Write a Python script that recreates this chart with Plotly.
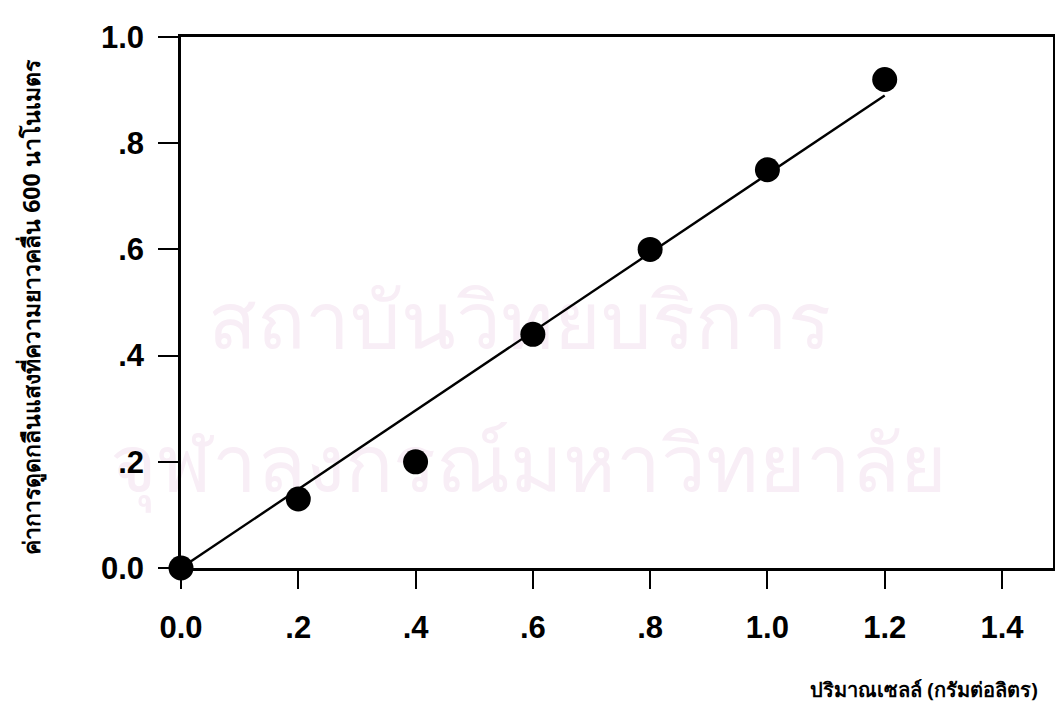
import plotly.graph_objects as go

# Data
cell_amount = [0.0, 0.2, 0.4, 0.6, 0.8, 1.0, 1.2]
absorbance = [0.0, 0.13, 0.20, 0.44, 0.60, 0.75, 0.92]
fit_x = [0.0, 1.2]
fit_y = [0.0, 0.89]
x_tickvals = [0.0, 0.2, 0.4, 0.6, 0.8, 1.0, 1.2, 1.4]
x_ticktext = ["0.0", ".2", ".4", ".6", ".8", "1.0", "1.2", "1.4"]
y_tickvals = [0.0, 0.2, 0.4, 0.6, 0.8, 1.0]
y_ticktext = ["0.0", ".2", ".4", ".6", ".8", "1.0"]

x_title = "ปริมาณเซลล์ (กรัมต่อลิตร)"
y_title = "ค่าการดูดกลืนแสงที่ความยาวคลื่น 600 นาโนเมตร"
watermark_text = ["สถาบันวิทยบริการ", "จุฬาลงกรณ์มหาวิทยาลัย"]
watermark_x = [0.578, 0.592]
watermark_y = [0.45, 0.18]

fig = go.Figure()
fig.add_trace(go.Scatter(x=watermark_x, y=watermark_y, mode="text", text=watermark_text,
                         textfont=dict(size=80, color="#f8eef6",
                                       family="Noto Sans, DejaVu Sans, sans-serif"),
                         showlegend=False, hoverinfo="skip", cliponaxis=False))
fig.add_trace(go.Scatter(x=fit_x, y=fit_y, mode="lines",
                         line=dict(color="black", width=2.4),
                         showlegend=False, hoverinfo="skip"))
fig.add_trace(go.Scatter(x=cell_amount, y=absorbance, mode="markers",
                         marker=dict(color="black", size=25),
                         showlegend=False, cliponaxis=False))

tickfont = dict(family="Liberation Sans, Arial, sans-serif", size=31, color="black", weight="bold")

fig.update_layout(
    width=1063, height=717,
    margin=dict(l=173, r=18, t=22, b=157),
    paper_bgcolor="white", plot_bgcolor="rgba(0,0,0,0)",
    xaxis=dict(range=[0, 1.487], tickvals=x_tickvals, ticktext=x_ticktext,
               ticks="outside", ticklen=18, tickwidth=2, tickcolor="black",
               showline=True, linecolor="black", linewidth=2.5, mirror=True,
               showgrid=False, zeroline=False, tickfont=tickfont, ticklabelstandoff=12),
    yaxis=dict(range=[0, 1.0], tickvals=y_tickvals, ticktext=y_ticktext,
               ticks="outside", ticklen=20, tickwidth=2, tickcolor="black",
               showline=True, linecolor="black", linewidth=2.5, mirror=True,
               showgrid=False, zeroline=False, tickfont=tickfont, ticklabelstandoff=8),
    annotations=[
        dict(text=x_title, xref="paper", yref="paper", x=0.985, y=-0.228, xanchor="right", yanchor="middle",
             showarrow=False, font=dict(size=20, color="black", weight="bold",
                                        family="Noto Sans, DejaVu Sans, sans-serif")),
        dict(text=y_title, xref="paper", yref="paper", x=-0.172, y=0.49, xanchor="center", yanchor="middle",
             textangle=-90, showarrow=False,
             font=dict(size=23, color="black", weight="bold",
                       family="Noto Sans, DejaVu Sans, sans-serif")),
    ],
)

fig.write_html("out.html")
